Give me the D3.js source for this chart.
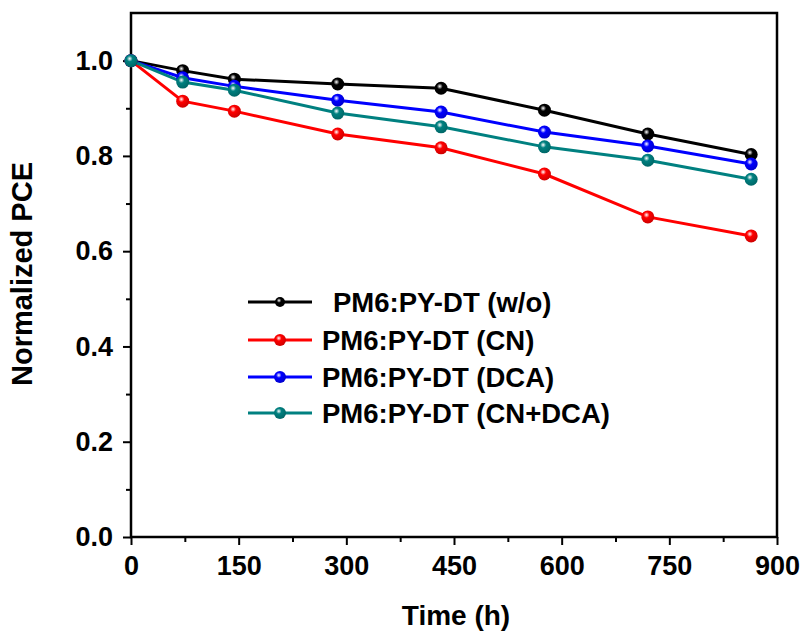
<!DOCTYPE html>
<html><head><meta charset="utf-8">
<script src="https://cdn.jsdelivr.net/npm/d3@7"></script>
<style>body{margin:0;background:#fff}svg{display:block}</style>
</head><body>
<svg id="c" width="806" height="632"></svg>
<script>
const times = [0, 72, 144, 288, 432, 576, 720, 864];
const seriesNames = ["PM6:PY-DT (w/o)", "PM6:PY-DT (CN)", "PM6:PY-DT (DCA)", "PM6:PY-DT (CN+DCA)"];
const woValues = [1.0, 0.979, 0.961, 0.951, 0.942, 0.896, 0.846, 0.803];
const cnValues = [1.0, 0.915, 0.894, 0.846, 0.817, 0.762, 0.672, 0.632];
const dcaValues = [1.0, 0.964, 0.946, 0.917, 0.892, 0.850, 0.821, 0.783];
const cndcaValues = [1.0, 0.955, 0.938, 0.890, 0.861, 0.819, 0.791, 0.751];
const seriesColors = ["#000000", "#ff0000", "#0000ff", "#008080"];
const xTicks = [0, 150, 300, 450, 600, 750, 900];
const yTicks = [0.0, 0.2, 0.4, 0.6, 0.8, 1.0];

const allValues = [woValues, cnValues, dcaValues, cndcaValues];
const svg = d3.select("#c");
const L = 131, R = 777, T = 13, B = 537;
const x = d3.scaleLinear().domain([0, 900]).range([L, R]);
const y = d3.scaleLinear().domain([0, 1.1]).range([B, T]);
const font = "'Liberation Sans', Arial, sans-serif";

const defs = svg.append("defs");
seriesColors.forEach((c, i) => {
  const g = defs.append("radialGradient").attr("id", "g" + i)
    .attr("cx", "40%").attr("cy", "35%").attr("r", "65%");
  g.append("stop").attr("offset", "0%").attr("stop-color", "#ffffff");
  g.append("stop").attr("offset", "35%").attr("stop-color", c);
  g.append("stop").attr("offset", "100%").attr("stop-color", d3.color(c).darker(0.6));
});

svg.append("rect").attr("x", L).attr("y", T).attr("width", R - L).attr("height", B - T)
  .attr("fill", "none").attr("stroke", "#000").attr("stroke-width", 2.5);

const xAxis = svg.append("g").attr("transform", `translate(0,${B})`)
  .call(d3.axisBottom(x).tickValues(xTicks).tickSize(8).tickPadding(11).tickFormat(d3.format("d")));
const xMinor = svg.append("g").attr("transform", `translate(0,${B})`)
  .call(d3.axisBottom(x).tickValues(d3.range(75, 900, 150)).tickSize(5).tickFormat(""));
const yAxis = svg.append("g").attr("transform", `translate(${L},0)`)
  .call(d3.axisLeft(y).tickValues(yTicks).tickSize(8).tickPadding(10).tickFormat(d3.format(".1f")));
const yMinor = svg.append("g").attr("transform", `translate(${L},0)`)
  .call(d3.axisLeft(y).tickValues([0.1, 0.3, 0.5, 0.7, 0.9]).tickSize(5).tickFormat(""));
[xAxis, xMinor, yAxis, yMinor].forEach(a => {
  a.select(".domain").remove();
  a.selectAll("line").attr("stroke", "#000").attr("stroke-width", 2);
  a.selectAll("text").attr("font-family", font).attr("font-weight", "bold")
    .attr("font-size", 27).attr("fill", "#000");
});

svg.append("text").attr("x", (L + R) / 2 + 2).attr("y", 625).attr("text-anchor", "middle")
  .attr("font-family", font).attr("font-weight", "bold").attr("font-size", 28).text("Time (h)");
svg.append("text").attr("transform", `translate(32,274) rotate(-90)`)
  .attr("text-anchor", "middle")
  .attr("font-family", font).attr("font-weight", "bold").attr("font-size", 29).text("Normalized PCE");

const line = d3.line().x((d, i) => x(times[i])).y(d => y(d));
allValues.forEach((vals, s) => {
  svg.append("path").datum(vals).attr("d", line).attr("fill", "none")
    .attr("stroke", seriesColors[s]).attr("stroke-width", 3);
});
allValues.forEach((vals, s) => {
  svg.append("g").selectAll("circle").data(vals).join("circle")
    .attr("cx", (d, i) => x(times[i])).attr("cy", d => y(d)).attr("r", 6.5)
    .attr("fill", `url(#g${s})`);
});

const legY = [302, 340, 377, 413];
seriesNames.forEach((n, i) => {
  const g = svg.append("g");
  g.append("line").attr("x1", 248).attr("x2", 312).attr("y1", legY[i]).attr("y2", legY[i])
    .attr("stroke", seriesColors[i]).attr("stroke-width", 3);
  g.append("circle").attr("cx", 280).attr("cy", legY[i]).attr("r", i === 0 ? 5 : 6)
    .attr("fill", `url(#g${i})`);
  g.append("text").attr("x", i === 0 ? 333 : 322).attr("y", legY[i] + 10)
    .attr("font-family", font).attr("font-weight", "bold").attr("font-size", 27.5).text(n);
});
</script>
</body></html>
